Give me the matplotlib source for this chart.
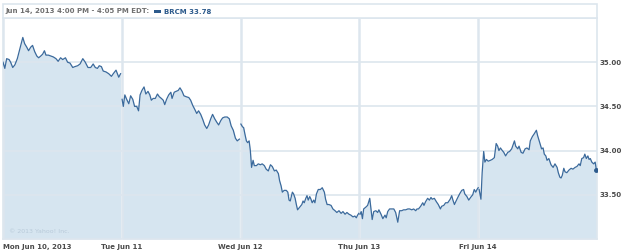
import numpy as np
import matplotlib
matplotlib.use('Agg')
import matplotlib.pyplot as plt
from matplotlib.patches import Rectangle

# BRCM intraday, 5 sessions; minutes after 9:30 open and price
mon_t = [0, 6, 12, 20, 25, 32, 39, 47, 56, 65, 71, 78, 84, 91, 97, 104, 111, 117, 124, 130,
         136, 141, 149, 157, 165, 174, 181, 189, 196, 205, 212, 220, 229, 236, 245, 253, 262,
         270, 279, 288, 296, 303, 310, 316, 323, 329, 338, 347, 356, 362, 371, 380, 386]
mon_p = [35.00, 34.93, 35.04, 35.03, 35.00, 34.94, 34.97, 35.04, 35.16, 35.28, 35.21, 35.17,
         35.13, 35.17, 35.19, 35.12, 35.07, 35.05, 35.07, 35.09, 35.13, 35.08, 35.08, 35.07,
         35.06, 35.04, 35.01, 35.05, 35.03, 35.05, 35.00, 34.99, 34.94, 34.95, 34.96, 34.98,
         35.04, 35.00, 34.94, 34.94, 34.98, 34.94, 34.93, 34.96, 34.95, 34.90, 34.89, 34.87,
         34.84, 34.87, 34.91, 34.83, 34.87]

tue_t = [1, 5, 10, 16, 23, 29, 36, 42, 49, 55, 60, 66, 73, 79, 86, 92, 97, 103, 110, 117,
         123, 130, 136, 141, 147, 154, 161, 165, 172, 178, 185, 191, 198, 204, 211, 220, 226,
         233, 239, 246, 252, 259, 266, 272, 279, 285, 292, 298, 305, 312, 318, 325, 331, 338,
         346, 353, 359, 366, 373, 379, 386]
tue_p = [34.58, 34.50, 34.63, 34.58, 34.53, 34.62, 34.58, 34.50, 34.50, 34.45,
         34.63, 34.68, 34.72, 34.64, 34.67, 34.63, 34.57, 34.59, 34.59, 34.64,
         34.61, 34.59, 34.57, 34.52, 34.58, 34.63, 34.66, 34.59, 34.66, 34.67,
         34.68, 34.71, 34.67, 34.62, 34.61, 34.60, 34.57, 34.51, 34.47, 34.42,
         34.45, 34.41, 34.35, 34.29, 34.25, 34.29, 34.36, 34.41, 34.36, 34.32,
         34.29, 34.34, 34.37, 34.38, 34.38, 34.36, 34.28, 34.23, 34.14, 34.11, 34.13]

wed_t = [1, 6, 10, 14, 19, 23, 28, 32, 36, 41, 45, 52, 58, 65, 71, 78, 84, 91, 98, 104,
         111, 117, 124, 128, 133, 137, 143, 150, 155, 159, 163, 170, 174, 179, 183, 187, 194,
         201, 205, 209, 214, 218, 222, 227, 231, 235, 240, 244, 249, 255, 262, 268, 275, 279,
         284, 290, 297, 303, 310, 316, 323, 330, 336, 343, 349, 356, 362, 369, 375, 380, 384, 388]
wed_p = [34.30, 34.27, 34.26, 34.19, 34.11, 34.09, 34.11, 34.00, 33.81, 33.89,
         33.83, 33.83, 33.85, 33.84, 33.85, 33.83, 33.79, 33.77, 33.84, 33.82,
         33.77, 33.78, 33.74, 33.66, 33.60, 33.53, 33.55, 33.55, 33.53, 33.44,
         33.43, 33.53, 33.51, 33.46, 33.39, 33.33, 33.36, 33.39, 33.43, 33.41,
         33.46, 33.49, 33.44, 33.48, 33.45, 33.41, 33.44, 33.41, 33.51, 33.56,
         33.56, 33.58, 33.53, 33.45, 33.39, 33.39, 33.38, 33.34, 33.32, 33.30,
         33.32, 33.29, 33.31, 33.28, 33.30, 33.28, 33.27, 33.25, 33.26, 33.24, 33.27, 33.29]

thu_t = [2, 6, 10, 14, 21, 27, 34, 38, 42, 47, 54, 60, 64, 71, 77, 84, 88, 93, 99, 106,
         113, 119, 126, 132, 139, 145, 152, 159, 165, 172, 178, 185, 189, 194, 201, 208, 212,
         217, 224, 230, 235, 239, 246, 253, 259, 266, 270, 277, 283, 290, 298, 303, 307, 312,
         316, 323, 329, 336, 342, 346, 353, 359, 365, 372, 377, 382, 386, 390]
thu_p = [33.28, 33.31, 33.23, 33.34, 33.36, 33.38, 33.46, 33.34, 33.22, 33.31,
         33.32, 33.30, 33.33, 33.28, 33.23, 33.27, 33.24, 33.31, 33.34, 33.34,
         33.34, 33.30, 33.19, 33.32, 33.32, 33.33, 33.33, 33.34, 33.34, 33.33,
         33.34, 33.32, 33.34, 33.34, 33.37, 33.41, 33.38, 33.42, 33.46, 33.44,
         33.47, 33.45, 33.46, 33.42, 33.39, 33.34, 33.37, 33.38, 33.41, 33.41,
         33.45, 33.49, 33.44, 33.39, 33.42, 33.47, 33.51, 33.55, 33.56, 33.51,
         33.48, 33.44, 33.47, 33.50, 33.56, 33.53, 33.56, 33.58]

fri_t = [3, 9, 13, 18, 22, 27, 33, 40, 46, 53, 59, 64, 68, 73, 77, 84, 90, 97, 103, 110,
         114, 119, 123, 130, 134, 141, 147, 154, 160, 167, 171, 178, 184, 191, 195, 202, 208,
         213, 217, 222, 226, 232, 239, 246, 252, 259, 263, 268, 272, 276, 281, 285, 291, 298,
         305, 311, 318, 324, 331, 335, 340, 346, 350, 355, 360, 364, 368, 373, 379, 384, 388]
fri_p = [33.56, 33.45, 33.75, 33.99, 33.87, 33.90, 33.88, 33.89, 33.90, 33.92,
         34.08, 34.05, 34.00, 34.03, 34.01, 33.98, 33.94, 33.98, 33.99, 34.02,
         34.06, 34.11, 34.05, 34.02, 34.05, 33.98, 33.97, 34.02, 34.03, 34.01,
         34.11, 34.16, 34.19, 34.23, 34.17, 34.09, 34.02, 34.03, 33.96, 33.94,
         33.89, 33.91, 33.84, 33.81, 33.85, 33.81, 33.75, 33.70, 33.69, 33.72,
         33.80, 33.76, 33.75, 33.78, 33.80, 33.79, 33.81, 33.82, 33.85, 33.83,
         33.91, 33.92, 33.96, 33.91, 33.94, 33.90, 33.91, 33.87, 33.85, 33.87, 33.78]

days = [(mon_t, mon_p), (tue_t, tue_p), (wed_t, wed_p), (thu_t, thu_p), (fri_t, fri_p)]
day_labels = ['Mon Jun 10, 2013', 'Tue Jun 11', 'Wed Jun 12', 'Thu Jun 13', 'Fri Jun 14']
y_ticks = [33.5, 34.0, 34.5, 35.0]
y_min, y_max = 33.0, 35.5

line_c = '#3b6a9c'
fill_c = '#d6e5f0'
grid_c = '#dde6ee'

W, H = 625, 252
fig = plt.figure(figsize=(W / 100, H / 100), dpi=100)

# header box
fig.patches.append(Rectangle((3 / W, 1 - 18 / H), 594 / W, 14 / H, transform=fig.transFigure,
                             facecolor='white', edgecolor=grid_c, linewidth=1.2))
fig.text(5 / W, 1 - 11.5 / H, 'Jun 14, 2013 4:00 PM - 4:05 PM EDT:', fontsize=5,
         fontweight='bold', color='#707070', va='center')
fig.patches.append(Rectangle((154 / W, 1 - 12.5 / H), 7 / W, 2.5 / H, transform=fig.transFigure,
                             facecolor='#2c5a8c', edgecolor='none'))
fig.text(164 / W, 1 - 11.5 / H, 'BRCM 33.78', fontsize=5, fontweight='bold',
         color='#2c5a8c', va='center')

ax = fig.add_axes([3 / W, 13 / H, 594 / W, 221 / H])
for i, (t, p) in enumerate(days):
    x = i + np.array(t) / 390.0
    ax.fill_between(x, p, y_min, color=fill_c, linewidth=0)
    ax.plot(x, p, color=line_c, linewidth=0.9, zorder=3)
last_x = 4 + fri_t[-1] / 390.0
ax.plot([last_x], [fri_p[-1]], 'o', color='#2c5a8c', markersize=2.5, zorder=4)

ax.set_xlim(0, 5)
ax.set_ylim(y_min, y_max)
ax.set_axisbelow('line')
ax.set_xticks(range(5))
ax.set_xticklabels(day_labels)
ax.set_yticks(y_ticks)
ax.set_yticklabels(['%.2f' % v for v in y_ticks])
ax.yaxis.tick_right()
ax.tick_params(length=0, labelsize=5, labelcolor='#4a4a4a')
ax.tick_params(axis='x', pad=3.5)
ax.tick_params(axis='y', pad=1.5)
for lab in ax.get_xticklabels() + ax.get_yticklabels():
    lab.set_fontweight('bold')
ax.get_xticklabels()[0].set_ha('left')
ax.xaxis.grid(True, color=grid_c, linewidth=1.8)
ax.yaxis.grid(True, color=grid_c, linewidth=1.2)
for s in ax.spines.values():
    s.set_color(grid_c)
    s.set_linewidth(1.2)

ax.text(6 / 594, 6 / 221, '\u00a9 2013 Yahoo! Inc.', transform=ax.transAxes, fontsize=4.5,
        color='#b8cad9')

fig.savefig('out.png', dpi=100)
